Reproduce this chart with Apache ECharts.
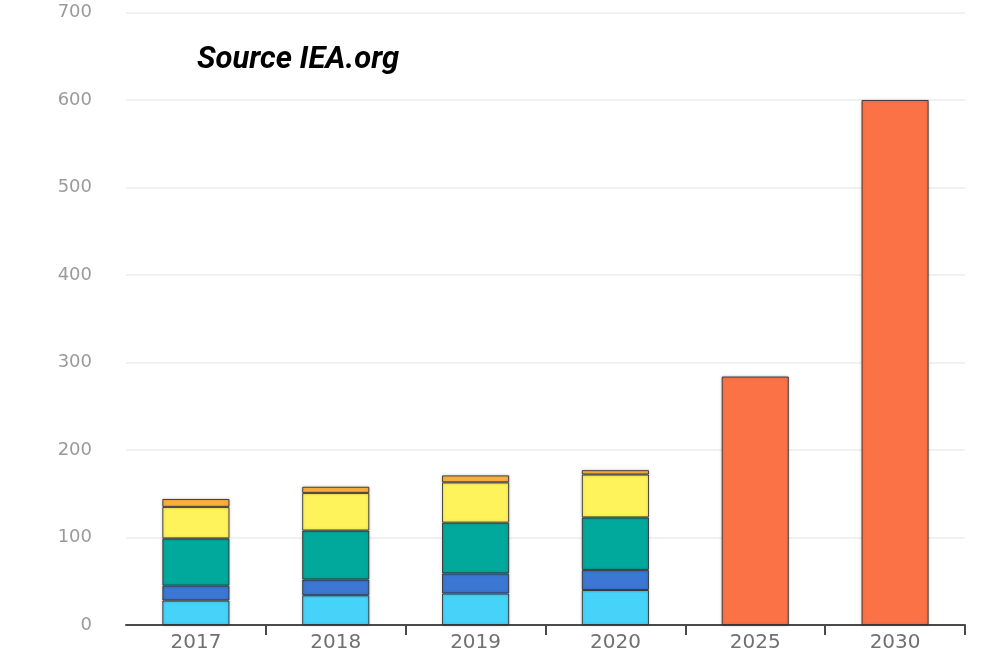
<!DOCTYPE html>
<html>
<head>
<meta charset="utf-8">
<script src="https://cdn.jsdelivr.net/npm/echarts@6/dist/echarts.min.js"></script>
<style>
  html, body { margin: 0; padding: 0; background: #ffffff; }
  #chart { width: 1005px; height: 658px; }
</style>
</head>
<body>
<div id="chart"></div>
<script>
// Categories along the x axis
const years = ['2017', '2018', '2019', '2020', '2025', '2030'];

// Stacked layers for the observed years (bottom to top)
const band1 = [28, 34, 36, 40, null, null];
const band2 = [17, 18, 23, 23, null, null];
const band3 = [54, 56, 58, 60, null, null];
const band4 = [36, 43, 46, 49, null, null];
const band5 = [9, 7, 8, 5, null, null];

// Single-value outlook bars
const outlook = [null, null, null, null, 284, 600];

// Value axis ticks
const yTicks = [0, 100, 200, 300, 400, 500, 600, 700];

const chart = echarts.init(document.getElementById('chart'));

const barStyle = (color) => ({
  color: color,
  borderColor: 'rgba(45,45,45,0.85)',
  borderWidth: 1,
  shadowBlur: 3,
  shadowColor: 'rgba(0,0,0,0.25)'
});

const layer = (name, data, color) => ({
  name: name,
  type: 'bar',
  stack: 'total',
  data: data,
  barWidth: '48%',
  itemStyle: barStyle(color),
  emphasis: { disabled: true }
});

chart.setOption({
  animation: false,
  backgroundColor: '#ffffff',
  title: {
    text: 'Source IEA.org',
    left: 192,
    top: 40,
    textStyle: {
      fontFamily: 'Roboto',
      fontWeight: 'bold',
      fontStyle: 'italic',
      fontSize: 31,
      color: '#000000'
    }
  },
  grid: { left: 126, right: 40, top: 12.5, bottom: 33, containLabel: false },
  xAxis: {
    type: 'category',
    data: years,
    boundaryGap: true,
    axisLine: { show: true, lineStyle: { color: '#4a4a4a', width: 2 } },
    axisTick: {
      show: true,
      length: 10,
      interval: (i) => i !== 0,
      lineStyle: { color: '#4a4a4a', width: 2 }
    },
    axisLabel: {
      color: '#707070',
      fontFamily: 'DejaVu Sans',
      fontSize: 20,
      margin: 8
    },
    splitLine: { show: false }
  },
  yAxis: {
    type: 'value',
    min: yTicks[0],
    max: yTicks[yTicks.length - 1],
    interval: yTicks[1] - yTicks[0],
    axisLine: { show: false },
    axisTick: { show: false },
    axisLabel: {
      color: '#9a9a9a',
      fontFamily: 'DejaVu Sans',
      fontSize: 18,
      margin: 34
    },
    splitLine: { show: true, lineStyle: { color: '#ececec', width: 1.5 } }
  },
  series: [
    layer('band1', band1, '#46d3fa'),
    layer('band2', band2, '#3b77d3'),
    layer('band3', band3, '#00a99c'),
    layer('band4', band4, '#fff35c'),
    layer('band5', band5, '#fbb23f'),
    layer('outlook', outlook, '#fc7247')
  ]
});
</script>
</body>
</html>
